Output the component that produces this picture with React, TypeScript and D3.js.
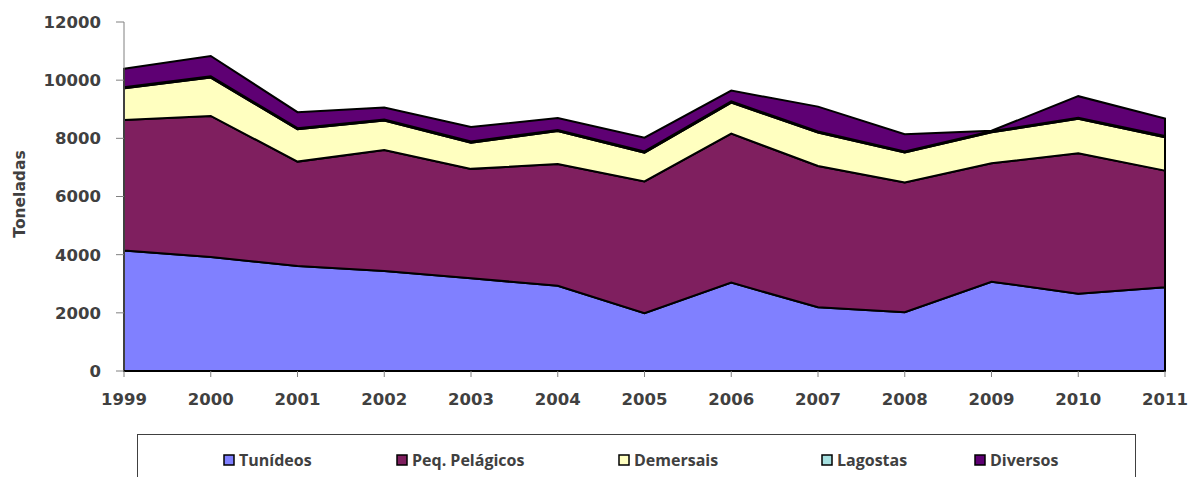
import React from "react";
import * as d3 from "d3";

const years = [1999, 2000, 2001, 2002, 2003, 2004, 2005, 2006, 2007, 2008, 2009, 2010, 2011];
const tunideos = [4140, 3920, 3610, 3440, 3190, 2930, 1990, 3040, 2190, 2020, 3070, 2660, 2880];
const peqPelagicos = [4490, 4850, 3590, 4160, 3760, 4190, 4530, 5120, 4860, 4460, 4070, 4830, 4010];
const demersais = [1090, 1320, 1110, 1010, 900, 1130, 990, 1070, 1150, 1030, 1070, 1180, 1150];
const lagostas = [40, 40, 40, 40, 40, 40, 40, 40, 40, 40, 30, 40, 40];
const diversos = [630, 700, 550, 410, 500, 410, 470, 370, 850, 590, 20, 740, 600];
const seriesNames = ["Tunídeos", "Peq. Pelágicos", "Demersais", "Lagostas", "Diversos"];
const seriesColors = ["#8080FF", "#7F1F5F", "#FFFFC0", "#A6E0E0", "#5E0073"];
const yTicks = [0, 2000, 4000, 6000, 8000, 10000, 12000];

export default function App() {
  const W = 1198, H = 477;
  const x = d3.scaleLinear().domain([1999, 2011]).range([124, 1165]);
  const y = d3.scaleLinear().domain([0, 12000]).range([371, 22]);
  const allSeries = [tunideos, peqPelagicos, demersais, lagostas, diversos];
  const rows = years.map((yr, i) => {
    const r: any = { year: yr };
    seriesNames.forEach((n, k) => (r[n] = allSeries[k][i]));
    return r;
  });
  const stacked = d3.stack().keys(seriesNames)(rows);
  const area = d3
    .area<any>()
    .x((d) => x(d.data.year))
    .y0((d) => y(d[0]))
    .y1((d) => y(d[1]));
  const textColor = "#404040";
  const axisFont = "'DejaVu Sans', Verdana, sans-serif";
  const legendFont = "'Open Sans', 'Noto Sans', sans-serif";
  const legendX = [224, 397, 619, 822, 975];

  return (
    <svg width={W} height={H} style={{ position: "absolute", left: 0, top: 0, background: "#fff" }}>
      {stacked.map((s, k) => (
        <path key={k} d={area(s as any) || ""} fill={seriesColors[k]} stroke="#000" strokeWidth={2} strokeLinejoin="miter" />
      ))}
      {/* y axis */}
      <line x1={124} x2={124} y1={y(12000)} y2={y(0)} stroke="#808080" strokeWidth={1} />
      {yTicks.map((t) => (
        <g key={t}>
          <line x1={116} x2={124} y1={y(t)} y2={y(t)} stroke="#808080" strokeWidth={1} />
          <text x={101} y={y(t)} dy="0.36em" textAnchor="end" fontFamily={axisFont} fontWeight="bold" fontSize={16.5} fill={textColor}>
            {t}
          </text>
        </g>
      ))}
      {/* x axis */}
      <line x1={x(1999)} x2={x(2011)} y1={y(0)} y2={y(0)} stroke="#000" strokeWidth={2} />
      {years.map((yr) => (
        <g key={yr}>
          <line x1={x(yr)} x2={x(yr)} y1={y(0)} y2={y(0) + 6} stroke="#808080" strokeWidth={1} />
          <text x={x(yr)} y={405} textAnchor="middle" fontFamily={axisFont} fontWeight="bold" fontSize={16.5} fill={textColor}>
            {yr}
          </text>
        </g>
      ))}
      <text
        transform={`translate(25,194) rotate(-90)`}
        textAnchor="middle"
        fontFamily={axisFont}
        fontWeight="bold"
        fontSize={15.5}
        fill={textColor}
      >
        Toneladas
      </text>
      {/* legend */}
      <rect x={137.5} y={434.5} width={998} height={60} fill="#fff" stroke="#404040" strokeWidth={1} />
      {seriesNames.map((n, k) => (
        <g key={n}>
          <rect x={legendX[k]} y={455} width={10} height={10} fill={seriesColors[k]} stroke="#000" strokeWidth={1.5} />
          <text x={legendX[k] + 15} y={466} fontFamily={legendFont} fontWeight="bold" fontSize={16} fill={textColor}>
            {n}
          </text>
        </g>
      ))}
    </svg>
  );
}
